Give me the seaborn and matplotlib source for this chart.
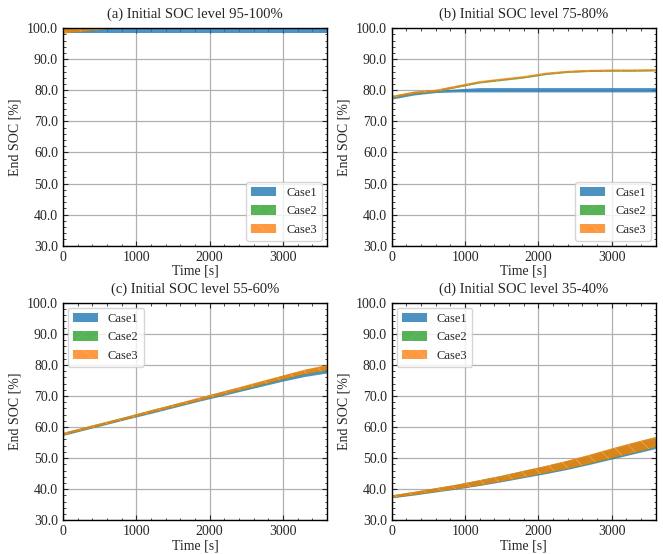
import numpy as np
import pandas as pd
import matplotlib
matplotlib.use("Agg")
import matplotlib.pyplot as plt
from matplotlib.patches import Patch
from matplotlib.ticker import MultipleLocator, FormatStrFormatter
import seaborn as sns

# ---------------- data ----------------
time_s = [0, 300, 600, 900, 1200, 1500, 1800, 2100, 2400, 2700, 3000, 3300, 3600]
cases = ["Case1", "Case2", "Case3"]
titles = ["(a) Initial SOC level 95-100%", "(b) Initial SOC level 75-80%",
          "(c) Initial SOC level 55-60%", "(d) Initial SOC level 35-40%"]

# (a) 95-100 %
a_case1_low = [98.6, 98.6, 98.6, 98.6, 98.6, 98.6, 98.6, 98.6, 98.6, 98.6, 98.6, 98.6, 98.6]
a_case1_high = [99.6, 99.6, 99.6, 99.6, 99.6, 99.6, 99.6, 99.6, 99.6, 99.6, 99.6, 99.6, 99.6]
a_case2_low = [98.3, 99.0, 99.7, 100.1, 100.2, 100.2, 100.2, 100.2, 100.2, 100.2, 100.2, 100.2, 100.2]
a_case2_high = [99.8, 100.4, 100.8, 101.0, 101.0, 101.0, 101.0, 101.0, 101.0, 101.0, 101.0, 101.0, 101.0]
a_case3_low = [98.3, 99.0, 99.7, 100.1, 100.2, 100.2, 100.2, 100.2, 100.2, 100.2, 100.2, 100.2, 100.2]
a_case3_high = [99.9, 100.4, 100.8, 101.0, 101.0, 101.0, 101.0, 101.0, 101.0, 101.0, 101.0, 101.0, 101.0]

# (b) 75-80 %
b_case1_low = [77.2, 78.5, 79.3, 79.5, 79.5, 79.5, 79.5, 79.5, 79.5, 79.5, 79.5, 79.5, 79.5]
b_case1_high = [78.0, 79.2, 80.0, 80.5, 80.9, 80.9, 80.9, 80.9, 80.9, 80.9, 80.9, 80.9, 80.9]
b_case2_low = [77.5, 78.8, 79.4, 80.8, 82.2, 83.0, 83.8, 84.9, 85.6, 85.9, 86.0, 86.0, 86.1]
b_case2_high = [78.2, 79.5, 80.1, 81.5, 82.8, 83.6, 84.4, 85.5, 86.2, 86.5, 86.6, 86.6, 86.7]
b_case3_low = [77.5, 78.9, 79.5, 80.9, 82.4, 83.2, 84.0, 85.1, 85.7, 86.0, 86.1, 86.1, 86.2]
b_case3_high = [78.2, 79.6, 80.2, 81.6, 83.0, 83.8, 84.6, 85.7, 86.3, 86.6, 86.7, 86.7, 86.8]

# (c) 55-60 %
c_case1_low = [57.3, 59.1, 60.9, 62.7, 64.4, 66.2, 68.0, 69.7, 71.4, 73.1, 74.8, 76.3, 77.4]
c_case1_high = [58.1, 59.9, 61.7, 63.5, 65.3, 67.1, 68.9, 70.7, 72.4, 74.2, 75.9, 77.5, 78.9]
c_case2_low = [57.3, 59.1, 60.9, 62.7, 64.5, 66.3, 68.1, 69.9, 71.6, 73.4, 75.2, 76.9, 78.1]
c_case2_high = [58.1, 59.9, 61.7, 63.5, 65.4, 67.2, 69.0, 70.9, 72.7, 74.6, 76.5, 78.3, 79.8]
c_case3_low = [57.3, 59.1, 60.9, 62.7, 64.5, 66.3, 68.1, 69.9, 71.7, 73.5, 75.3, 77.0, 78.2]
c_case3_high = [58.1, 59.9, 61.7, 63.5, 65.4, 67.2, 69.1, 70.9, 72.8, 74.7, 76.6, 78.5, 80.0]

# (d) 35-40 %
d_case1_low = [37.2, 38.1, 39.1, 40.1, 41.2, 42.4, 43.7, 45.0, 46.4, 48.0, 49.7, 51.4, 53.1]
d_case1_high = [38.0, 39.1, 40.2, 41.4, 42.8, 44.2, 45.8, 47.3, 49.0, 50.8, 52.8, 54.6, 56.4]
d_case2_low = [37.2, 38.1, 39.1, 40.1, 41.2, 42.5, 43.8, 45.1, 46.5, 48.1, 49.9, 51.6, 53.4]
d_case2_high = [38.0, 39.1, 40.3, 41.5, 42.9, 44.3, 45.9, 47.4, 49.1, 51.0, 53.0, 54.9, 56.7]
d_case3_low = [37.2, 38.1, 39.1, 40.1, 41.2, 42.5, 43.8, 45.2, 46.6, 48.2, 50.0, 51.7, 53.5]
d_case3_high = [38.0, 39.1, 40.3, 41.5, 42.9, 44.3, 45.9, 47.5, 49.2, 51.1, 53.1, 55.0, 56.8]

panel_data = [
    [(a_case1_low, a_case1_high), (a_case2_low, a_case2_high), (a_case3_low, a_case3_high)],
    [(b_case1_low, b_case1_high), (b_case2_low, b_case2_high), (b_case3_low, b_case3_high)],
    [(c_case1_low, c_case1_high), (c_case2_low, c_case2_high), (c_case3_low, c_case3_high)],
    [(d_case1_low, d_case1_high), (d_case2_low, d_case2_high), (d_case3_low, d_case3_high)],
]
legend_locs = ["lower right", "lower right", "upper left", "upper left"]

# ---------------- style ----------------
sns.set_style("ticks")
plt.rcParams["font.family"] = ["Liberation Serif", "DejaVu Serif"]
plt.rcParams.update({
    "font.size": 10,
    "axes.titlesize": 10.5,
    "axes.labelsize": 10,
    "xtick.labelsize": 10,
    "ytick.labelsize": 10,
    "legend.fontsize": 9,
    "xtick.direction": "in",
    "ytick.direction": "in",
    "xtick.top": True,
    "ytick.right": True,
    "xtick.minor.visible": True,
    "ytick.minor.visible": True,
    "xtick.major.size": 3.5,
    "ytick.major.size": 3.5,
    "xtick.minor.size": 1.8,
    "ytick.minor.size": 1.8,
    "axes.edgecolor": "black",
    "axes.linewidth": 1.0,
    "hatch.linewidth": 0.5,
})

colors = ["#1f77b4", "#2ca02c", "#ff7f0e"]
hatch_colors = ["#1f77b4", "#6cc06c", "#ffb070"]
hatches = [None, "//", "\\\\"]
alpha = 0.8

fig, axes = plt.subplots(2, 2, figsize=(6.63, 5.54), dpi=100)
fig.subplots_adjust(left=0.095, right=0.989, top=0.949, bottom=0.061,
                    wspace=0.246, hspace=0.263)

for idx, ax in enumerate(axes.flat):
    for ci, case in enumerate(cases):
        low, high = panel_data[idx][ci]
        df = pd.DataFrame({
            "t": list(time_s) + list(time_s),
            "soc": list(low) + list(high),
        })
        n_before = len(ax.collections)
        sns.lineplot(data=df, x="t", y="soc", ax=ax, color=colors[ci],
                     estimator="mean", errorbar=("pi", 100), linewidth=0,
                     err_kws={"alpha": alpha, "linewidth": 0})
        for coll in ax.collections[n_before:]:
            if hatches[ci]:
                coll.set_hatch(hatches[ci])
                coll.set_edgecolor(hatch_colors[ci])
                coll.set_linewidth(0)
    ax.set_xlim(0, 3600)
    ax.set_ylim(30, 100)
    ax.xaxis.set_major_locator(MultipleLocator(1000))
    ax.xaxis.set_minor_locator(MultipleLocator(200))
    ax.yaxis.set_major_locator(MultipleLocator(10))
    ax.yaxis.set_minor_locator(MultipleLocator(2))
    ax.yaxis.set_major_formatter(FormatStrFormatter("%.1f"))
    ax.grid(True, which="major", color="#b0b0b0", linewidth=0.9)
    ax.set_axisbelow(True)
    ax.set_title(titles[idx], pad=7.5)
    ax.set_xlabel("Time [s]", labelpad=1)
    ax.set_ylabel("End SOC [%]", labelpad=4)
    handles = []
    for ci, case in enumerate(cases):
        handles.append(Patch(facecolor=colors[ci], edgecolor=hatch_colors[ci],
                             hatch=hatches[ci], alpha=alpha, linewidth=0, label=case))
    ax.legend(handles=handles, loc=legend_locs[idx], frameon=True, fancybox=True,
              framealpha=0.8, edgecolor="#cccccc", borderaxespad=0.4,
              handleheight=0.8)

fig.savefig("out.png", dpi=100)
